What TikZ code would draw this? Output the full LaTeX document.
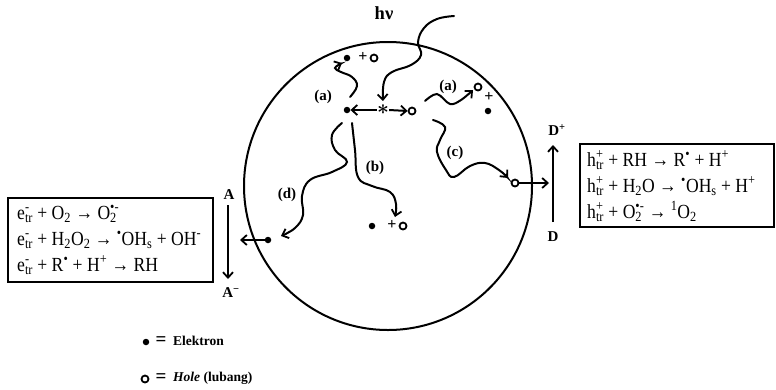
\documentclass[tikz,border=0pt]{standalone}
\usepackage{fontspec}
\setmainfont{Liberation Serif}
\newfontfamily\eqfont[FakeStretch=0.88]{Liberation Serif}
\usetikzlibrary{arrows.meta}
\newcommand\ssb[2]{\begingroup\setbox0=\hbox{\textsubscript{#1}}\setbox2=\hbox{\textsuperscript{#2}}\ifdim\wd0>\wd2 \rlap{\box2}\box0\else\rlap{\box0}\box2\fi\endgroup}
\begin{document}
\begin{tikzpicture}[x=1pt,y=-1pt,
  wv/.style={line width=2pt, line cap=round, -{Straight Barb[length=5.5pt,width=10pt,line width=1.8pt]}},
  st/.style={line width=2pt, -{Straight Barb[length=5.5pt,width=10pt,line width=1.8pt]}},
  elec/.style={circle, fill=black, inner sep=0pt, minimum size=6.5pt},
  hole/.style={circle, draw=black, line width=1.8pt, inner sep=0pt, minimum size=7pt},
  lbl/.style={font=\bfseries\fontsize{15}{17}\selectfont, inner sep=0pt},
  pl/.style={font=\bfseries\fontsize{16}{18}\selectfont, inner sep=0pt},
  big/.style={font=\bfseries\fontsize{15}{17}\selectfont, inner sep=0pt},
  frame/.style={draw=black, line width=1.8pt, inner sep=0pt, anchor=north west},
  eqtext/.style={align=left, inner sep=0pt, anchor=west, font=\eqfont\fontsize{20}{26}\selectfont}]
\useasboundingbox (0,0) rectangle (776,389);
% particle
\draw[line width=2pt] (388,186) circle (144);
% centre
\node[inner sep=0pt, font=\boldmath\fontsize{20}{20}\selectfont] (ast) at (383,110) {$\ast$};
\node[elec] (eC) at (347,110) {};
\node[hole] (hC) at (412,111) {};
\draw[st] (ast.west) -- (eC.east);
\draw[st] (ast.east) -- (hC.west);
% h nu
\node[font=\bfseries\fontsize{18.5}{20}\selectfont, inner sep=0pt] (hv) at (384,13) {hν};
\coordinate (hv0) at (454,16);
\draw[wv] plot[smooth,tension=0.7] coordinates {(hv0) (437,19) (424,28) (418,42) (421,55) (411,65) (392,72) (384,82) (383,101)};
% top-left (a)
\node[elec] (eTL) at (347,58) {};
\node[pl] (pTL) at (363,57) {+};
\node[hole] (hTL) at (374,58) {};
\node[lbl] (la1) at (323,97) {(a)};
\coordinate (a10) at (350,97);
\draw[wv] plot[smooth,tension=0.7] coordinates {(a10) (357,86) (352,77) (341,72) (335,68) (342,63)};
% top-right (a)
\node[hole] (hTR) at (478,87) {};
\node[pl] (pTR) at (489,97) {+};
\node[elec] (eTR) at (488,111) {};
\node[lbl] (la2) at (448,87) {(a)};
\coordinate (a20) at (425,101);
\draw[wv] plot[smooth,tension=0.6] coordinates {(a20) (437,94) (450,104) (461,100) (473,90)};
% (b)
\node[elec] (eB) at (372,226) {};
\node[pl] (pB) at (392,225) {+};
\node[hole] (hB) at (403,226) {};
\node[lbl] (lb) at (375,168) {(b)};
\coordinate (b0) at (352,123);
\draw[wv] plot[smooth,tension=0.7] coordinates {(b0) (355,150) (358,177) (372,186) (390,192) (396,204) (395,217)};
% (d)
\node[elec] (eD) at (268,240) {};
\node[lbl] (ld) at (287,195) {(d)};
\coordinate (d0) at (342,123);
\draw[wv] plot[smooth,tension=0.7] coordinates {(d0) (332,135) (335,150) (347,162) (332,172) (310,180) (302,196) (303,215) (295,228) (281,236)};
\coordinate (dL) at (240,240);
\draw[st] (eD.west) -- (dL);
% (c)
\node[hole] (hD) at (515,183) {};
\node[lbl] (lc) at (455,153) {(c)};
\coordinate (c0) at (433,120);
\draw[wv] plot[smooth,tension=0.7] coordinates {(c0) (445,127) (440,140) (437,152) (446,170) (454,177) (470,166) (485,163) (499,170) (508,178)};
\coordinate (cR) at (549,183);
\draw[st] (hD.east) -- (cR);
% D arrow
\node[big] (D) at (553,237) {D};
\node[big] (Dp) at (557,130) {D\textsuperscript{+}};
\coordinate (Dt) at (553,222);
\coordinate (Dh) at (553,145);
\draw[st] (Dt) -- (Dh);
% A arrow
\node[big] (A) at (229,195) {A};
\node[big] (Am) at (231,293) {A\textsuperscript{−}};
\coordinate (At) at (228,205);
\coordinate (Ah) at (228,279);
\draw[st] (At) -- (Ah);
% boxes
\node[frame, minimum width=205pt, minimum height=84pt] (lbox) at (7,197) {};
\node[eqtext] (ltext) at (17,240) {%
e\ssb{tr}{-} + O\textsubscript{2} → O\ssb{2}{•-}\\
e\ssb{tr}{-} + H\textsubscript{2}O\textsubscript{2} → \textsuperscript{•}OH\textsubscript{s} + OH\textsuperscript{-}\\
e\ssb{tr}{-} + R\textsuperscript{•} + H\textsuperscript{+} → RH};
\node[frame, minimum width=194pt, minimum height=83pt] (rbox) at (579,143) {};
\node[eqtext] (rtext) at (587,186) {%
h\ssb{tr}{+} + RH → R\textsuperscript{•} + H\textsuperscript{+}\\
h\ssb{tr}{+} + H\textsubscript{2}O → \textsuperscript{•}OH\textsubscript{s} + H\textsuperscript{+}\\
h\ssb{tr}{+} + O\ssb{2}{•-} → \textsuperscript{1}O\textsubscript{2}};
% legend
\node[elec] (le) at (146,342) {};
\node[font=\bfseries\fontsize{19}{20}\selectfont, inner sep=0pt] (leq1) at (161,341) {=};
\node[font=\bfseries\fontsize{13.5}{15}\selectfont, anchor=west, inner sep=0pt] (lt1) at (173,341) {Elektron};
\node[hole] (lh) at (145,379) {};
\node[font=\bfseries\fontsize{19}{20}\selectfont, inner sep=0pt] (leq2) at (161,378) {=};
\node[font=\bfseries\fontsize{13.5}{15}\selectfont, anchor=west, inner sep=0pt] (lt2) at (173,378) {\textit{Hole} (lubang)};
\end{tikzpicture}
\end{document}
